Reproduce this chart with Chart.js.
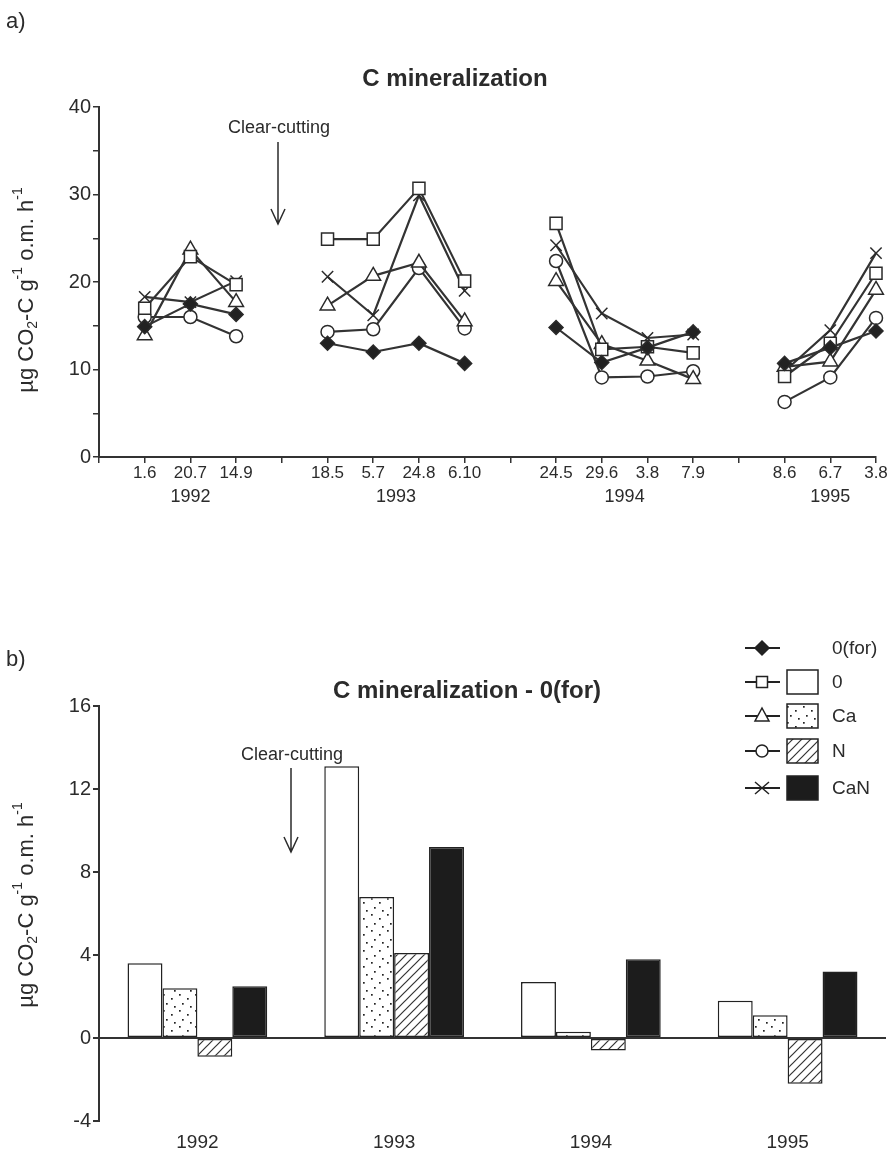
<!DOCTYPE html>
<html>
<head>
<meta charset="utf-8">
<script src="https://cdn.jsdelivr.net/npm/chart.js@4.4.0/dist/chart.umd.min.js"></script>
<style>
  html, body { margin: 0; padding: 0; background: #fff; }
  .box { position: relative; width: 888px; }
  #top { height: 560px; }
  #bottom { height: 595px; }
</style>
</head>
<body>
<div class="box" id="top"><canvas id="chartA"></canvas></div>
<div class="box" id="bottom"><canvas id="chartB"></canvas></div>
<script>
// sampling dates (day.month), empty slots separate the years
const dateLabels = ['', '1.6', '20.7', '14.9', '', '18.5', '5.7', '24.8', '6.10', '', '24.5', '29.6', '3.8', '7.9', '', '8.6', '6.7', '3.8'];
const years = ['1992', '1993', '1994', '1995'];
const seriesNames = ['0(for)', '0', 'Ca', 'N', 'CaN'];

// a) C mineralization, µg CO2-C g-1 o.m. h-1
const minFor = [null, 14.9, 17.5, 16.3, null, 13.0, 12.0, 13.0, 10.7, null, 14.8, 10.8, 12.5, 14.3, null, 10.7, 12.5, 14.4];
const min0   = [null, 17.0, 22.9, 19.7, null, 24.9, 24.9, 30.7, 20.1, null, 26.7, 12.3, 12.6, 11.9, null, 9.2, 13.0, 21.0];
const minCa  = [null, 13.9, 23.7, 17.7, null, 17.3, 20.7, 22.2, 15.5, null, 20.1, 12.9, 11.0, 8.9, null, 10.3, 10.9, 19.1];
const minN   = [null, 16.0, 16.0, 13.8, null, 14.3, 14.6, 21.6, 14.7, null, 22.4, 9.1, 9.2, 9.8, null, 6.3, 9.1, 15.9];
const minCaN = [null, 18.3, 17.7, 20.1, null, 20.6, 16.2, 29.9, 19.0, null, 24.2, 16.4, 13.6, 14.0, null, 9.8, 14.5, 23.3];

// b) C mineralization - 0(for), yearly means
const diff0   = [3.6, 13.1, 2.7, 1.8];
const diffCa  = [2.4, 6.8, 0.3, 1.1];
const diffN   = [-0.9, 4.1, -0.6, -2.2];
const diffCaN = [2.5, 9.2, 3.8, 3.2];

const INK = '#2b2b2b';
const SANS = '"Liberation Sans", Arial, sans-serif';
const NARROW = '"Liberation Sans Narrow", "Liberation Sans", sans-serif';
Chart.defaults.font.family = SANS;
Chart.defaults.color = INK;

// center of each year group on the category axis
const yearCenters = [];
let start = null;
dateLabels.forEach((l, i) => {
  if (l !== '' && start === null) start = i;
  if (start !== null && (l === '' || i === dateLabels.length - 1)) {
    const end = l === '' ? i - 1 : i;
    yearCenters.push((start + end) / 2);
    start = null;
  }
});

function makeDots() {
  const c = document.createElement('canvas');
  c.width = 16; c.height = 16;
  const g = c.getContext('2d');
  g.fillStyle = '#fff'; g.fillRect(0, 0, 16, 16);
  g.fillStyle = '#222';
  [[3, 2], [11, 6], [6, 11], [14, 14]].forEach(p => g.fillRect(p[0], p[1], 1.7, 1.7));
  return g.createPattern(c, 'repeat');
}

function makeHatch() {
  const c = document.createElement('canvas');
  c.width = 9; c.height = 9;
  const g = c.getContext('2d');
  g.fillStyle = '#fff'; g.fillRect(0, 0, 9, 9);
  g.strokeStyle = '#333'; g.lineWidth = 1.2;
  g.beginPath();
  g.moveTo(0, 9); g.lineTo(9, 0);
  g.moveTo(-2, 2); g.lineTo(2, -2);
  g.moveTo(7, 11); g.lineTo(11, 7);
  g.stroke();
  return g.createPattern(c, 'repeat');
}

const dots = makeDots();
const hatch = makeHatch();

function drawYTitle(ctx, cx, cy) {
  const size = 22, small = 14;
  const parts = [
    ['µg CO', size, 0], ['2', small, 6], ['-C g', size, 0], ['-1', small, -9],
    [' o.m. h', size, 0], ['-1', small, -9]
  ];
  ctx.save();
  ctx.fillStyle = INK;
  ctx.translate(cx, cy);
  ctx.rotate(-Math.PI / 2);
  ctx.textAlign = 'left';
  ctx.textBaseline = 'middle';
  let total = 0;
  parts.forEach(p => { ctx.font = p[1] + 'px ' + SANS; total += ctx.measureText(p[0]).width; });
  let x = -total / 2;
  parts.forEach(p => {
    ctx.font = p[1] + 'px ' + SANS;
    ctx.fillText(p[0], x, p[2]);
    x += ctx.measureText(p[0]).width;
  });
  ctx.restore();
}

function drawArrow(ctx, x, y1, y2) {
  ctx.save();
  ctx.strokeStyle = INK;
  ctx.lineWidth = 1.5;
  ctx.beginPath();
  ctx.moveTo(x, y1); ctx.lineTo(x, y2);
  ctx.moveTo(x - 7, y2 - 15); ctx.lineTo(x, y2); ctx.lineTo(x + 7, y2 - 15);
  ctx.stroke();
  ctx.restore();
}

function marker(ctx, style, x, y) {
  ctx.save();
  ctx.strokeStyle = '#222';
  ctx.fillStyle = '#fff';
  ctx.lineWidth = 1.5;
  ctx.beginPath();
  if (style === 'rectRot') {
    ctx.moveTo(x, y - 7); ctx.lineTo(x + 7, y); ctx.lineTo(x, y + 7); ctx.lineTo(x - 7, y); ctx.closePath();
    ctx.fillStyle = '#222'; ctx.fill(); ctx.stroke();
  } else if (style === 'rect') {
    ctx.rect(x - 5.5, y - 5.5, 11, 11); ctx.fill(); ctx.stroke();
  } else if (style === 'triangle') {
    ctx.moveTo(x, y - 8); ctx.lineTo(x + 7, y + 5); ctx.lineTo(x - 7, y + 5); ctx.closePath(); ctx.fill(); ctx.stroke();
  } else if (style === 'circle') {
    ctx.arc(x, y, 6, 0, Math.PI * 2); ctx.fill(); ctx.stroke();
  } else {
    ctx.moveTo(x - 7, y - 6); ctx.lineTo(x + 7, y + 6);
    ctx.moveTo(x - 7, y + 6); ctx.lineTo(x + 7, y - 6); ctx.stroke();
  }
  ctx.restore();
}

const pointStyles = ['rectRot', 'rect', 'triangle', 'circle', 'crossRot'];
const pointRadii = [7, 8.5, 8.5, 6.5, 8];
const barFills = [null, '#fff', dots, hatch, '#1c1c1c'];

const topDecor = {
  id: 'topDecor',
  afterDraw(chart) {
    const ctx = chart.ctx, xs = chart.scales.x;
    ctx.save();
    ctx.fillStyle = INK;
    ctx.textBaseline = 'middle';
    ctx.textAlign = 'left';
    ctx.font = '22px ' + SANS;
    ctx.fillText('a)', 6, 22);
    ctx.textAlign = 'center';
    ctx.font = 'bold 24px ' + SANS;
    ctx.fillText('C mineralization', 455, 79);
    ctx.font = '18px ' + NARROW;
    yearCenters.forEach((c, i) => ctx.fillText(years[i], xs.getPixelForValue(c), 497));
    ctx.font = '18px ' + SANS;
    ctx.fillText('Clear-cutting', 279, 128);
    ctx.restore();
    drawArrow(ctx, 278, 142, 224);
    drawYTitle(ctx, 27, 290);
  }
};

const bottomDecor = {
  id: 'bottomDecor',
  afterDraw(chart) {
    const ctx = chart.ctx;
    ctx.save();
    ctx.fillStyle = INK;
    ctx.textBaseline = 'middle';
    ctx.textAlign = 'left';
    ctx.font = '22px ' + SANS;
    ctx.fillText('b)', 6, 100);
    ctx.textAlign = 'center';
    ctx.font = 'bold 24px ' + SANS;
    ctx.fillText('C mineralization - 0(for)', 467, 131);
    ctx.font = '18px ' + SANS;
    ctx.fillText('Clear-cutting', 292, 195);
    ctx.restore();
    drawArrow(ctx, 291, 208, 292);
    drawYTitle(ctx, 27, 345);

    // legend: line marker + bar box + name
    const rows = [88, 122, 156, 191, 228];
    seriesNames.forEach((name, i) => {
      const y = rows[i];
      ctx.save();
      ctx.strokeStyle = '#222';
      ctx.lineWidth = 2;
      ctx.beginPath(); ctx.moveTo(745, y); ctx.lineTo(780, y); ctx.stroke();
      ctx.restore();
      marker(ctx, pointStyles[i], 762, y);
      if (barFills[i]) {
        ctx.save();
        ctx.fillStyle = barFills[i];
        ctx.fillRect(787, y - 12, 31, 24);
        ctx.strokeStyle = '#222'; ctx.lineWidth = 1.5;
        ctx.strokeRect(787, y - 12, 31, 24);
        ctx.restore();
      }
      ctx.save();
      ctx.fillStyle = INK;
      ctx.font = '19px ' + SANS;
      ctx.textAlign = 'left';
      ctx.textBaseline = 'middle';
      ctx.fillText(name, 832, y + 1);
      ctx.restore();
    });
  }
};

const lineSeries = [minFor, min0, minCa, minN, minCaN];

new Chart(document.getElementById('chartA'), {
  type: 'line',
  data: {
    labels: dateLabels,
    datasets: lineSeries.map((d, i) => ({
      label: seriesNames[i],
      data: d,
      borderColor: '#333',
      borderWidth: 2.2,
      pointStyle: pointStyles[i],
      pointRadius: pointRadii[i],
      pointBorderWidth: 1.5,
      pointBorderColor: '#2a2a2a',
      pointBackgroundColor: i === 0 ? '#222' : '#fff',
      spanGaps: false,
      clip: false,
      tension: 0
    }))
  },
  options: {
    responsive: true,
    maintainAspectRatio: false,
    animation: false,
    layout: { padding: { top: 107, left: 0, right: 12, bottom: 43 } },
    plugins: { legend: { display: false }, tooltip: { enabled: false } },
    scales: {
      x: {
        offset: false,
        grid: { drawOnChartArea: false, color: '#333', tickLength: 6, lineWidth: 1.5 },
        border: { color: '#333', width: 2 },
        ticks: { autoSkip: false, maxRotation: 0, padding: 0, color: INK, font: { family: NARROW, size: 17 } },
        afterFit(s) { s.height = 60; }
      },
      y: {
        min: 0, max: 40,
        grid: { drawOnChartArea: false, color: '#333', tickLength: 6, lineWidth: 1.5 },
        border: { color: '#333', width: 2 },
        ticks: { stepSize: 5, padding: 2, color: INK, font: { size: 20 },
          callback: v => (v % 10 === 0 ? v : '') },
        afterFit(s) { s.width = 99; }
      }
    }
  },
  plugins: [topDecor]
});

const barSeries = [diff0, diffCa, diffN, diffCaN];

new Chart(document.getElementById('chartB'), {
  type: 'bar',
  data: {
    labels: years,
    datasets: barSeries.map((d, i) => ({
      label: seriesNames[i + 1],
      data: d,
      backgroundColor: barFills[i + 1],
      borderColor: '#222',
      borderWidth: 1.5,
      borderSkipped: false,
      categoryPercentage: 0.71,
      barPercentage: 1
    }))
  },
  options: {
    responsive: true,
    maintainAspectRatio: false,
    animation: false,
    layout: { padding: { top: 146, left: 0, right: 2, bottom: 2 } },
    plugins: { legend: { display: false }, tooltip: { enabled: false } },
    scales: {
      x: {
        grid: { display: false },
        border: { display: false },
        ticks: { padding: 2, color: INK, font: { family: NARROW, size: 19 } },
        afterFit(s) { s.height = 32; }
      },
      y: {
        min: -4, max: 16,
        grid: {
          color: c => (c.tick && c.tick.value === 0 ? '#333' : 'rgba(0,0,0,0)'),
          tickColor: '#333', tickLength: 6, lineWidth: 2
        },
        border: { color: '#333', width: 2 },
        ticks: { stepSize: 4, padding: 2, color: INK, font: { size: 20 } },
        afterFit(s) { s.width = 99; }
      }
    }
  },
  plugins: [bottomDecor]
});
</script>
</body>
</html>
